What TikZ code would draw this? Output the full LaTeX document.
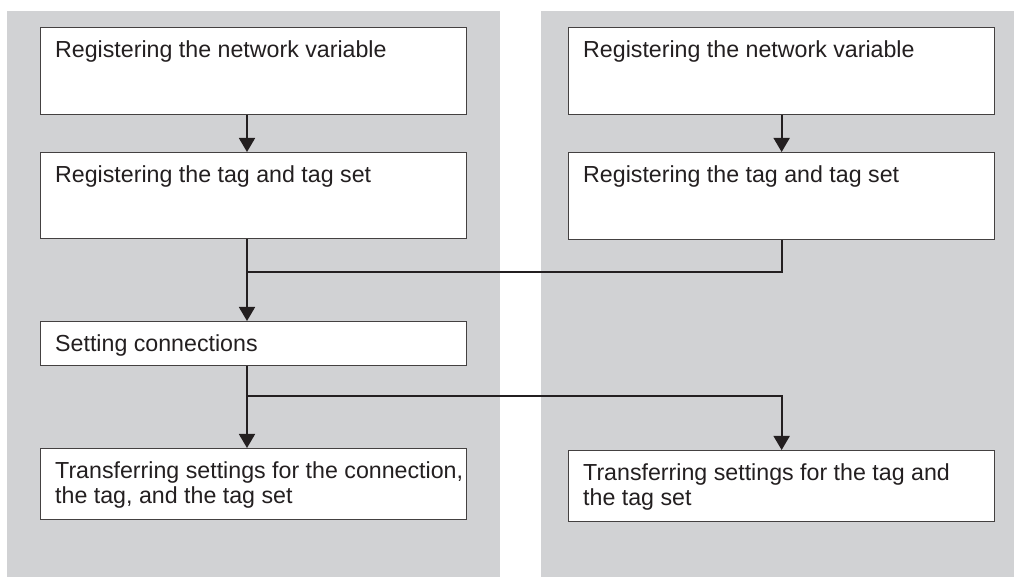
\documentclass[tikz,border=0pt]{standalone}
\usepackage{fontspec}
\setmainfont{Liberation Sans}
\usetikzlibrary{arrows.meta}
\definecolor{panelgray}{HTML}{D1D2D4}
\definecolor{inkline}{HTML}{231F20}

\begin{document}
\begin{tikzpicture}[x=1pt, y=-1pt,
    stepbox/.style={draw=inkline!85, line width=1.3pt, fill=white, anchor=north west, minimum width=426pt, inner sep=0pt},
    txt/.style={anchor=north west, inner xsep=15pt, inner ysep=13pt, font=\fontsize{23.2}{25.5}\selectfont, align=left, text=inkline},
    link/.style={inkline, line width=1.8pt},
    arr/.style={link, -{Triangle[width=16pt, length=14pt]}}]
    \useasboundingbox (0,0) rectangle (1021,577);

    % panels
    \fill[panelgray] (7,11) rectangle (500,577);
    \fill[panelgray] (541,11) rectangle (1014,577);

    % left column
    \node[stepbox, minimum height=87pt, label={[txt]north west:{Registering the network variable}}] (lreg) at (40,27) {};
    \node[stepbox, minimum height=86pt, label={[txt]north west:{Registering the tag and tag set}}] (ltag) at (40,152) {};
    \node[stepbox, minimum height=44pt, label={[txt]north west:{Setting connections}}] (lconn) at (40,321) {};
    \node[stepbox, minimum height=71pt, label={[txt]north west:{Transferring settings for the connection,\\the tag, and the tag set}}] (ltrans) at (40,448) {};

    % right column
    \node[stepbox, minimum height=87pt, label={[txt]north west:{Registering the network variable}}] (rreg) at (568,27) {};
    \node[stepbox, minimum height=87pt, label={[txt]north west:{Registering the tag and tag set}}] (rtag) at (568,152) {};
    \node[stepbox, minimum height=71pt, label={[txt]north west:{Transferring settings for the tag and\\the tag set}}] (rtrans) at (568,450) {};

    \coordinate (lx) at (247,0);
    \coordinate (merge) at (247,272);
    \coordinate (split) at (247,396);

    % connectors
    \draw[arr] (lreg.south -| lx) -- (ltag.north -| lx);
    \draw[arr] (rreg.south) -- (rtag.north);
    \draw[link] (rtag.south) |- (merge);
    \draw[arr] (ltag.south -| lx) -- (lconn.north -| lx);
    \draw[arr] (lconn.south -| lx) -- (ltrans.north -| lx);
    \draw[arr] (split) -| (rtrans.north);
\end{tikzpicture}
\end{document}
